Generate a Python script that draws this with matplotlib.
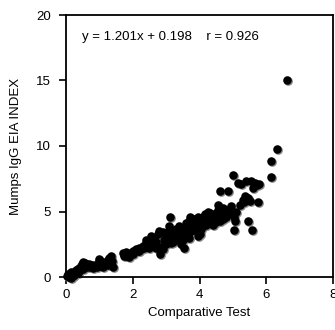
import matplotlib as mpl
mpl.use("Agg")
import matplotlib.pyplot as plt
import matplotlib.transforms as mtransforms
import numpy as np

plt.rcParams["font.family"] = ["Liberation Sans", "DejaVu Sans"]

# Comparative test (x) vs Mumps IgG EIA index (y)
comp_x = [
    0.03, 0.08, 0.10, 0.12, 0.15, 0.18, 0.20, 0.22, 0.25, 0.27, 0.30, 0.32,
    0.35, 0.38, 0.40, 0.42, 0.45, 0.47, 0.50, 0.52, 0.55, 0.58,
    0.05, 0.15, 0.25, 0.35, 0.50, 0.60, 0.70,
    0.62, 0.68, 0.72, 0.78, 0.82, 0.88, 0.92, 0.98, 1.00, 1.02, 1.05, 1.10,
    1.15, 1.20, 1.25, 1.30, 1.35, 1.38, 1.40, 1.10, 1.25, 1.30,
    1.72, 1.75, 1.80, 1.85, 1.90, 1.95, 2.00, 2.05, 2.10, 2.15, 2.20, 2.25,
    2.30, 2.35, 2.40, 2.45, 2.50, 2.52, 2.55, 1.80, 2.00, 2.20, 2.40,
    2.60, 2.65, 2.70, 2.75, 2.80, 2.82, 2.85, 2.90, 2.95, 3.00, 3.05, 3.08,
    3.12, 3.15, 3.20, 3.25, 3.30, 3.35, 3.40, 3.45, 3.50, 3.55, 3.60,
    2.60, 2.70, 2.90, 3.00, 3.10, 3.20, 3.30, 3.40, 3.50, 3.55, 3.60, 3.70,
    3.65, 3.70, 3.72, 3.75, 3.80, 3.85, 3.90, 3.95, 4.00, 4.02, 4.05, 4.10,
    4.15, 4.20, 4.25, 4.30, 4.35, 4.40, 4.45, 4.50, 4.55, 4.60, 4.62, 4.65,
    4.70, 4.75, 4.80, 4.85, 4.90, 4.60,
    3.80, 3.90, 3.95, 4.05, 4.10, 4.20, 4.30, 4.40, 4.50, 4.55, 4.70, 4.80,
    4.95, 5.00, 5.02, 5.04, 5.05, 5.10, 5.15, 5.20, 5.25, 5.30, 5.32, 5.35,
    5.40, 5.45, 5.45, 5.50, 5.55, 5.57, 5.60, 5.65, 5.72, 5.75, 5.78,
    6.13, 6.15, 6.32, 6.62,
]
eia_y = [
    0.05, 0.00, 0.10, 0.20, -0.05, 0.15, 0.30, 0.10, 0.40, 0.25, 0.50, 0.35,
    0.60, 0.45, 0.70, 0.55, 0.85, 1.00, 1.15, 0.90, 0.75, 1.05,
    0.25, 0.35, 0.15, 0.30, 0.60, 1.00, 1.00,
    0.80, 0.85, 0.75, 0.90, 0.70, 0.95, 0.80, 1.20, 1.35, 0.85, 1.00, 1.15,
    0.95, 1.05, 1.30, 1.45, 1.60, 1.20, 0.80, 0.80, 0.90, 1.10,
    1.80, 1.60, 1.90, 1.75, 1.55, 1.85, 2.00, 1.95, 2.10, 2.00, 2.25, 2.10,
    2.40, 2.20, 2.60, 2.35, 2.20, 2.75, 3.10, 1.60, 1.75, 1.95, 2.80,
    2.50, 2.90, 2.70, 3.30, 3.50, 1.75, 2.30, 2.10, 2.80, 3.20, 3.00, 3.90,
    4.60, 2.60, 3.10, 3.40, 2.90, 3.30, 3.00, 2.50, 3.50, 2.20, 3.80,
    3.00, 2.20, 3.40, 2.50, 3.50, 2.70, 3.70, 3.90, 2.80, 3.20, 4.10, 3.00,
    3.20, 4.30, 4.60, 3.50, 4.00, 4.40, 3.80, 4.60, 3.30, 4.10, 4.40, 3.90,
    4.80, 4.50, 5.00, 4.20, 4.70, 4.00, 4.50, 4.90, 5.50, 4.30, 5.20, 4.80,
    5.30, 4.60, 5.10, 6.60, 4.90, 6.60,
    3.60, 4.30, 3.10, 3.70, 4.60, 4.00, 4.90, 4.40, 4.20, 5.10, 4.40, 4.60,
    5.40, 7.80, 4.60, 3.55, 4.30, 5.00, 7.20, 5.50, 7.10, 5.90, 5.70, 6.20,
    7.30, 6.00, 4.30, 5.80, 7.35, 3.55, 6.80, 7.20, 7.00, 5.70, 7.10,
    8.85, 7.65, 9.75, 15.05,
]

x_ticks = [0, 2, 4, 6, 8]
y_ticks = [0, 5, 10, 15, 20]
fit_text = "y = 1.201x + 0.198    r = 0.926"

fig = plt.figure(figsize=(3.35, 3.30), dpi=100)
ax = fig.add_axes([66 / 335, 53 / 330, 267 / 335, 262 / 330])

# grey rim offset a little down-right, black disc on top -> shaded look
shade = mtransforms.offset_copy(ax.transData, fig=fig, x=1.0, y=-1.0, units="dots")
ax.scatter(comp_x, eia_y, s=40, color="#8c8c8c", linewidths=0, transform=shade,
           clip_on=False, zorder=2)
ax.scatter(comp_x, eia_y, s=38, color="black", linewidths=0, clip_on=False, zorder=3)

ax.set_xlim(0, 8)
ax.set_ylim(0, 20)
ax.set_xticks(x_ticks)
ax.set_yticks(y_ticks)
ax.tick_params(direction="out", length=5, width=1.2, labelsize=9.5)
ax.tick_params(axis="x", pad=4)
ax.tick_params(axis="y", pad=6)
for sp in ax.spines.values():
    sp.set_linewidth(1.3)

ax.set_xlabel("Comparative Test", fontsize=9.5, labelpad=4)
ax.set_ylabel("Mumps IgG EIA INDEX", fontsize=9.5, labelpad=10)
ax.text(0.06, 0.916, fit_text, transform=ax.transAxes, fontsize=9.5,
        ha="left", va="center")

fig.savefig("out.png", dpi=100)
